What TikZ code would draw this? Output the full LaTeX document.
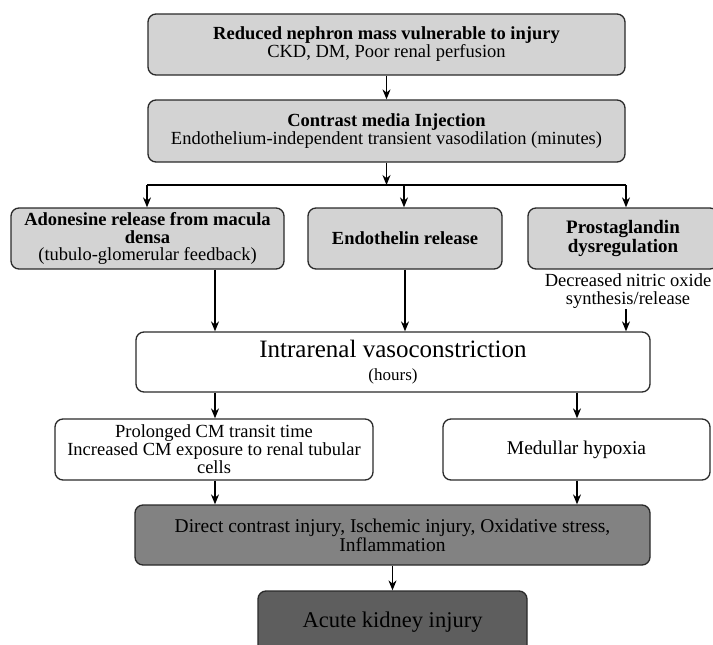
\documentclass[tikz,border=0pt]{standalone}
\usepackage{fontspec}
\setmainfont{Liberation Serif}
\usetikzlibrary{arrows.meta,calc}
\definecolor{lightbox}{HTML}{D3D3D3}
\definecolor{midbox}{HTML}{828282}
\definecolor{darkbox}{HTML}{5E5E5E}
\definecolor{edge}{HTML}{2A2A2A}
\tikzset{
  boxbase/.style={draw=edge, line width=1.3pt, rounded corners=8pt, align=center,
    inner sep=2pt, font=\fontsize{18.5}{18}\selectfont},
  lightnode/.style={boxbase, fill=lightbox},
  whitenode/.style={boxbase, fill=white},
  midnode/.style={boxbase, fill=midbox},
  darknode/.style={boxbase, fill=darkbox},
  arr/.style={line width=1.1pt, draw=black, -{Stealth[length=10pt,width=8pt]}},
  plainline/.style={line width=1.1pt, draw=black},
}
\begin{document}
\begin{tikzpicture}[x=1pt,y=1pt]
\useasboundingbox (0,0) rectangle (713,-645);
\fill[white] (0,0) rectangle (713,-645);

\node[lightnode, minimum width=477, minimum height=61] (b1) at (386.5,-44.5)
  {\textbf{Reduced nephron mass vulnerable to injury}\\CKD, DM, Poor renal perfusion};
\node[lightnode, minimum width=477, minimum height=62] (b2) at (386.5,-131)
  {\textbf{Contrast media Injection}\\Endothelium-independent transient vasodilation (minutes)};

\coordinate (split) at (386.5,-185);
\coordinate (sl) at (147,-185);
\coordinate (sr) at (626,-185);
\coordinate (sm) at (404,-185);

\node[lightnode, minimum width=273, minimum height=61, font=\fontsize{18.5}{17.5}\selectfont] (A) at (147.5,-238.5)
  {\textbf{Adonesine release from macula}\\\textbf{densa}\\(tubulo-glomerular feedback)};
\node[lightnode, minimum width=194, minimum height=61] (B) at (405,-238.5)
  {\textbf{Endothelin release}};
\node[lightnode, minimum width=190, minimum height=61, font=\fontsize{19}{19.5}\selectfont] (C) at (623,-238.5)
  {\textbf{Prostaglandin}\\\textbf{dysregulation}};
\node[align=center, inner sep=1pt, font=\fontsize{18.5}{17.5}\selectfont] (N) at (628,-291)
  {Decreased nitric oxide\\synthesis/release};

\node[whitenode, minimum width=514, minimum height=60, font=\fontsize{25}{23}\selectfont] (I) at (393,-362)
  {Intrarenal vasoconstriction\\{\fontsize{17}{18}\selectfont (hours)}};

\node[whitenode, minimum width=318, minimum height=61] (D) at (214,-449.5)
  {Prolonged CM transit time\\Increased CM exposure to renal tubular\\cells};
\node[whitenode, minimum width=267, minimum height=61] (E) at (576.5,-449.5)
  {{\fontsize{19.5}{20}\selectfont Medullar hypoxia}};

\node[midnode, minimum width=515, minimum height=60, font=\fontsize{19.5}{19}\selectfont] (F) at (392.5,-535)
  {Direct contrast injury, Ischemic injury, Oxidative stress,\\Inflammation};
\node[darknode, minimum width=269, minimum height=62] (G) at (392.5,-622)
  {{\fontsize{22.5}{24}\selectfont Acute kidney injury}};

\coordinate (xL) at (215,0);
\coordinate (xR) at (577,0);
\coordinate (xB) at (405,0);
\coordinate (xN) at (626,0);

\draw[arr] (b1.south) -- (b2.north);
\draw[arr] (b2.south) -- (split);
\draw[plainline] (sl) -- (sr);
\draw[arr] (sl) -- (A.north -| sl);
\draw[arr] (sm) -- (B.north -| sm);
\draw[arr] (sr) -- (C.north -| sr);

\draw[arr] (A.south -| xL) -- (I.north -| xL);
\draw[arr] (B.south -| xB) -- (I.north -| xB);
\draw[arr] (N.south -| xN) -- (I.north -| xN);

\draw[arr] (I.south -| xL) -- (D.north -| xL);
\draw[arr] (I.south -| xR) -- (E.north -| xR);
\draw[arr] (D.south -| xL) -- (F.north -| xL);
\draw[arr] (E.south -| xR) -- (F.north -| xR);
\draw[arr] (F.south) -- (G.north);
\end{tikzpicture}
\end{document}
